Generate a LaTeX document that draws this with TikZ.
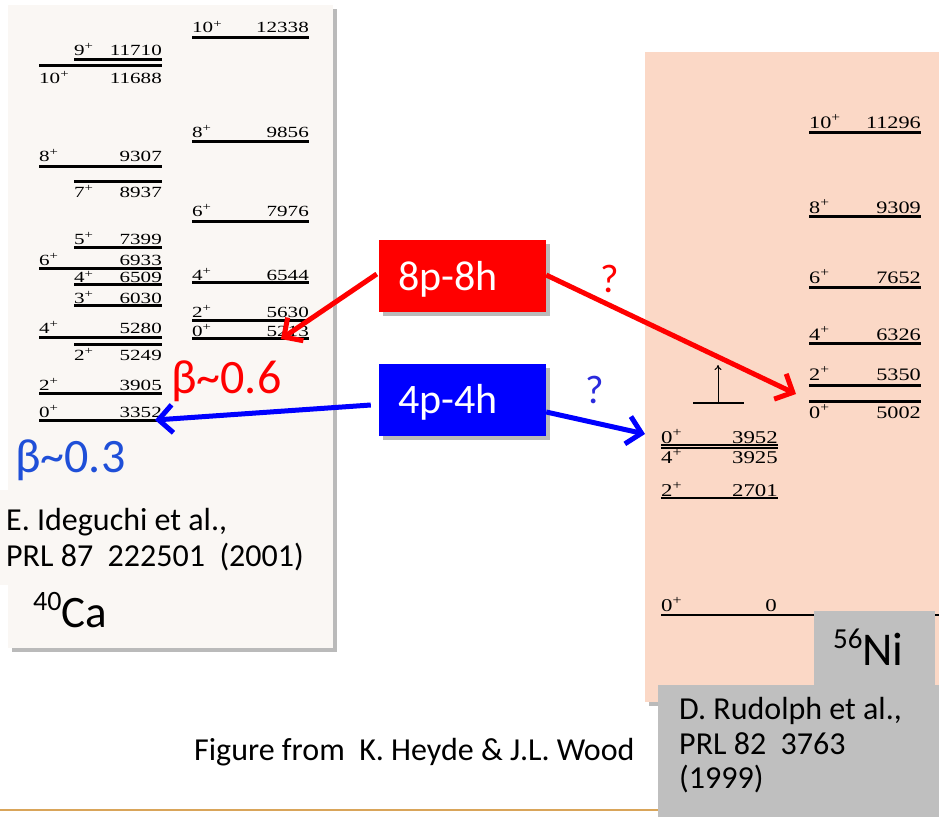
\documentclass[tikz,border=0pt]{standalone}
\usepackage{fontspec}
\setmainfont{Carlito}
\newfontfamily\lvA[FakeStretch=1.36]{Liberation Serif}
\newfontfamily\lvB[FakeStretch=1.27]{Liberation Serif}
\usetikzlibrary{arrows.meta,shadows,calc}
\definecolor{panelL}{HTML}{FAF7F4}
\definecolor{panelR}{HTML}{FBD8C6}
\definecolor{grayb}{HTML}{BFBFBF}
\definecolor{betablue}{HTML}{1F4FD8}
\definecolor{qblue}{HTML}{2A2ADD}
\definecolor{footline}{HTML}{D9A55A}
\tikzset{
  levL line/.style={line width=3pt},
  levL text/.style={inner sep=0pt, font=\lvA\fontsize{15.5}{15.5}\selectfont},
  levR line/.style={line width=3pt},
  levR text/.style={inner sep=0pt, font=\lvB\fontsize{17.5}{17.5}\selectfont},
  levT line/.style={line width=1.4pt},
  levT text/.style={inner sep=0pt, font=\lvB\fontsize{18}{18}\selectfont},
  pshadow/.style={drop shadow={shadow xshift=4pt, shadow yshift=-4pt, opacity=.45, fill=black!60}},
  cbox/.style={minimum width=167pt, minimum height=72pt, inner sep=0pt, pshadow},
  boxtxt/.style={inner sep=0pt, anchor=base west, text=white, font=\fontsize{42}{42}\selectfont},
  bigtxt/.style={inner sep=0pt, anchor=base west, font=\fontsize{48}{48}\selectfont},
  qtxt/.style={inner sep=0pt, anchor=base west, font=\fontsize{40}{40}\selectfont},
  cite/.style={inner sep=0pt, anchor=base west, font=\fontsize{32}{32}\selectfont},
  bigarrow/.style={line width=5pt, -{Straight Barb[length=14pt,width=28pt]}},
  smallarrow/.style={line width=1pt, -{To[length=5pt,width=7pt]}}
}
\newcommand\lvl[8]{%
  \draw[#8 line] (#2,#4) coordinate (#1a) -- (#3,#4) coordinate (#1b);
  \node[#8 text, anchor=base west] (#1s) at (#2,#5) {#6\textsuperscript{+}};
  \node[#8 text, anchor=base east] (#1e) at (#3,#5) {#7};
}
\begin{document}
\begin{tikzpicture}[x=1pt,y=-1pt]
\useasboundingbox (0,0) rectangle (939,817);
\fill[white] (0,0) rectangle (939,817);
% panels
\path[fill=panelL, pshadow] (8,5) rectangle (333,648);
\path[fill=panelR, pshadow] (645,52) rectangle (939,702);
\fill[panelL] (0,490) rectangle (310,585);
% 40Ca levels
\lvl{A}{192}{309}{37}{32.5}{10}{12338}{levL}
\lvl{B}{74}{162}{59}{55}{9}{11710}{levL}
\lvl{C}{39}{162}{65}{83}{10}{11688}{levL}
\lvl{D}{192}{309}{141}{137}{8}{9856}{levL}
\lvl{E}{39}{162}{166}{161}{8}{9307}{levL}
\lvl{F}{74}{162}{181}{197}{7}{8937}{levL}
\lvl{G}{192}{309}{221}{216}{6}{7976}{levL}
\lvl{H}{74}{162}{247}{244}{5}{7399}{levL}
\lvl{I}{39}{162}{268}{265}{6}{6933}{levL}
\lvl{J}{74}{162}{284}{282.5}{4}{6509}{levL}
\lvl{K}{74}{162}{305}{303}{3}{6030}{levL}
\lvl{L}{192}{309}{282}{280}{4}{6544}{levL}
\lvl{M}{192}{309}{320}{317}{2}{5630}{levL}
\lvl{N}{192}{309}{338}{336}{0}{5213}{levL}
\lvl{O}{39}{162}{337}{333}{4}{5280}{levL}
\lvl{P}{74}{162}{344}{360}{2}{5249}{levL}
\lvl{Q}{39}{162}{393}{390}{2}{3905}{levL}
\lvl{R}{39}{162}{420}{417}{0}{3352}{levL}
% 56Ni levels
\lvl{S}{809}{921}{132}{128}{10}{11296}{levR}
\lvl{T}{809}{921}{216}{213}{8}{9309}{levR}
\lvl{U}{809}{921}{287}{283}{6}{7652}{levR}
\lvl{V}{809}{921}{343}{340}{4}{6326}{levR}
\lvl{W}{809}{921}{385}{380}{2}{5350}{levR}
\lvl{X}{809}{921}{401}{418}{0}{5002}{levR}
\lvl{Y}{661}{778}{445}{443}{0}{3952}{levT}
\lvl{Z}{661}{778}{448}{463}{4}{3925}{levT}
\lvl{AA}{661}{778}{498}{496}{2}{2701}{levT}
\draw[levT line] (661,615) coordinate (g0a) -- (939,615) coordinate (g0b);
\node[levT text, anchor=base west] (g0s) at (661,611) {0\textsuperscript{+}};
\node[levT text, anchor=base east] (g0e) at (777,611) {0};
% small arrow
\draw[levT line] (693,403) coordinate (sba) -- (744,403) coordinate (sbb);
\coordinate (sbm) at (718,403);
\coordinate (sbt) at (718,365);
\draw[smallarrow] (sbm) -- (sbt);
% gray boxes
\fill[grayb] (814,611) rectangle (935,685);
\fill[grayb] (658,685) rectangle (939,817);
\node[inner sep=0pt, anchor=base west] (ni) at (833,665)
  {\raisebox{17pt}{\fontsize{29}{29}\selectfont 56}\fontsize{47}{47}\selectfont Ni};
\node[cite] (rud1) at (679,719) {D. Rudolph et al.,};
\node[cite] (rud2) at (679,754) {PRL 82 \ 3763};
\node[cite] (rud3) at (679,788) {(1999)};
% left texts
\node[bigtxt, text=betablue] (b3) at (15,472) {β\textasciitilde 0.3};
\node[bigtxt, text=red] (b6) at (171,393) {β\textasciitilde 0.6};
\node[cite] (ide1) at (6,530) {E. Ideguchi et al.,};
\node[cite] (ide2) at (6,566) {PRL 87 \ 222501 \ (2001)};
\node[inner sep=0pt, anchor=base west] (ca) at (33,627)
  {\raisebox{17pt}{\fontsize{28}{28}\selectfont 40}\fontsize{45}{45}\selectfont Ca};
% footer
\node[cite] (foot) at (194,760) {Figure from \ K. Heyde \& J.L. Wood};
\draw[footline, line width=1.2pt] (0,810) coordinate (fla) -- (658,810) coordinate (flb);
% boxes
\node[cbox, fill=red] (p8) at (462.5,276) {};
\node[cbox, fill=blue] (p4) at (462.5,400) {};
% arrows
\coordinate (tRL) at (281,339);
\coordinate (tRR) at (796,394);
\coordinate (tBL) at (155,420);
\coordinate (tBR) at (645,434);
\draw[bigarrow, red] ($(p8.west)+(-2,-2)$) -- (tRL);
\draw[bigarrow, red] ($(p8.east)+(0,-1)$) -- (tRR);
\draw[bigarrow, blue] ($(p4.west)+(-8,5)$) -- (tBL);
\draw[bigarrow, blue] ($(p4.east)+(0,12)$) -- (tBR);
\node[boxtxt] (p8t) at (398,290) {8p-8h};
\node[boxtxt] (p4t) at (398,413) {4p-4h};
\node[qtxt, text=red] (q1) at (600,292) {?};
\node[qtxt, text=qblue] (q2) at (585,403) {?};
\end{tikzpicture}
\end{document}
